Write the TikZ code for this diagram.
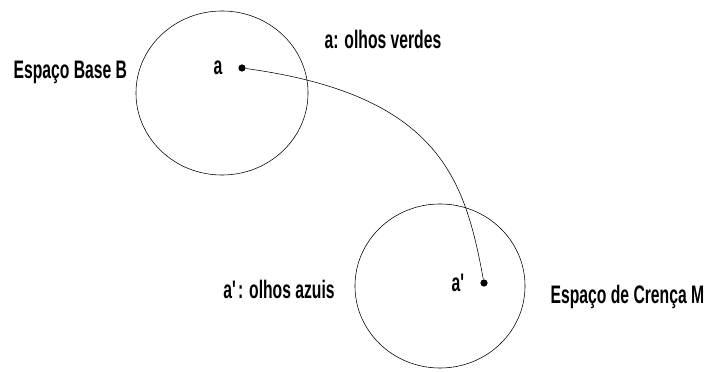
\documentclass[tikz,border=0pt]{standalone}
\usepackage{fontspec}
\setmainfont{Liberation Sans}[FakeStretch=0.62]
\usetikzlibrary{shapes.geometric,positioning}

\begin{document}
\begin{tikzpicture}[x=0.025cm,y=-0.025cm,
    espaco/.style={ellipse,draw,thin,inner sep=0},
    ponto/.style={circle,fill,inner sep=0,minimum size=0.18cm},
    rotulo/.style={font=\fontsize{18}{20}\selectfont\bfseries,inner sep=1pt}]
    \useasboundingbox (0,0) rectangle (709,372);

    % Espaco base
    \node[espaco,minimum width=4.3cm,minimum height=4.1cm] (base) at (222,93) {};
    \node[rotulo,anchor=west] (baselbl) at (12,72) {Espaço Base B};
    \node[ponto] (a) at (242,68) {};
    \node[rotulo,left=0.35cm of a] (albl) {a};
    \node[rotulo] (averdes) at (383,39) {a: olhos verdes};

    % Espaco de crenca
    \node[espaco,minimum width=4.25cm,minimum height=4.1cm] (crenca) at (440,286) {};
    \node[rotulo,anchor=west] (crencalbl) at (549,297) {Espaço de Crença M};
    \node[ponto] (ap) at (484,283) {};
    \node[rotulo,left=0.3cm of ap] (aplbl) {a\textquotesingle};
    \node[rotulo] (aazuis) at (279,289) {a\textquotesingle: olhos azuis};

    % Mapeamento
    \draw[thin] (a) .. controls (440,95) and (465,180) .. (ap);
\end{tikzpicture}
\end{document}
